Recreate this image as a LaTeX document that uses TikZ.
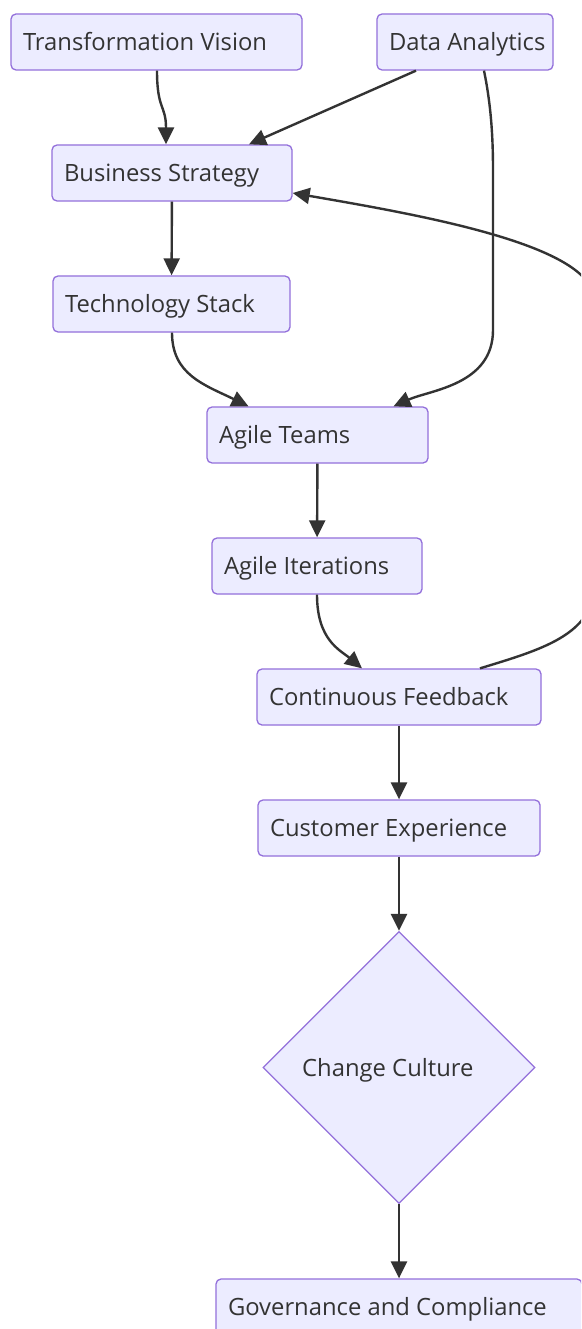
\documentclass[tikz,border=0pt]{standalone}
\usepackage{fontspec}
\setmainfont{Open Sans}
\usetikzlibrary{arrows.meta,shapes.geometric}
\definecolor{nodefill}{HTML}{ECECFF}
\definecolor{nodeline}{HTML}{9370DB}
\definecolor{edgecol}{HTML}{333333}
\newcommand{\boxtext}[2]{\makebox[#1][l]{#2}}
\tikzset{
  box/.style={draw=nodeline, fill=nodefill, line width=1.3pt, rounded corners=5pt,
    minimum height=56pt, inner xsep=12pt, inner ysep=0pt,
    text height=17pt, text depth=0pt,
    text=edgecol, font=\fontsize{23.8}{28}\selectfont},
  lbl/.style={text=edgecol, font=\fontsize{23.8}{28}\selectfont, inner sep=0pt,
    text height=17pt, text depth=0pt},
  arr/.style={draw=edgecol, line width=2.4pt, -{Triangle[length=17pt,width=16pt]}}
}
\begin{document}
\begin{tikzpicture}[x=1pt,y=-1pt]
\useasboundingbox (0,0) rectangle (581,1329);
\clip (0,0) rectangle (581,1329);
\fill[white] (0,0) rectangle (581,1329);
% nodes
\node[box] (tv) at (156.5,42) {\boxtext{267pt}{Transformation Vision}};
\node[box] (da) at (465,42) {\boxtext{152pt}{Data Analytics}};
\node[box] (bs) at (172,173) {\boxtext{216pt}{Business Strategy}};
\node[box] (ts) at (171.5,304) {\boxtext{213pt}{Technology Stack}};
\node[box] (at) at (317.5,435) {\boxtext{197pt}{Agile Teams}};
\node[box] (ai) at (317,566) {\boxtext{186pt}{Agile Iterations}};
\node[box] (cf) at (399,697) {\boxtext{260pt}{Continuous Feedback}};
\node[box] (ce) at (399,828) {\boxtext{258pt}{Customer Experience}};
\node[diamond, draw=nodeline, fill=nodefill, line width=1.3pt, aspect=1,
  minimum width=272pt, minimum height=272pt, inner sep=0pt] (cc) at (399,1067.5) {};
\node[lbl, anchor=west] (cclbl) at (302,1068) {Change Culture};
\node[box] (gc) at (399,1307) {\boxtext{342pt}{Governance and Compliance}};
% waypoints
\coordinate (tvs) at ([xshift=0.5]tv.south);
\coordinate (bsn) at ([xshift=-6]bs.north);
\coordinate (das1) at ([xshift=-49]da.south);
\coordinate (bsn2) at ([xshift=77]bs.north);
\coordinate (das2) at ([xshift=19]da.south);
\coordinate (w1) at (493,170);
\coordinate (w2) at (493,330);
\coordinate (atn1) at ([xshift=76]at.north);
\coordinate (tss) at ([xshift=0.5]ts.south);
\coordinate (atn2) at ([xshift=-69]at.north);
\coordinate (cfn) at ([xshift=-37]cf.north);
\coordinate (cfn2) at ([xshift=81]cf.north);
\coordinate (w3) at (594,585);
\coordinate (w4) at (594,300);
\coordinate (bse) at ([yshift=-20]bs.east);
% edges
\draw[arr] (tvs) .. controls (157,110) and (166,105) .. (bsn);
\draw[arr] (das1) -- (bsn2);
\draw[arr] (das2) .. controls (490,100) and (493,130) .. (w1) -- (w2)
  .. controls (493,385) and (430,390) .. (atn1);
\draw[arr] (bs) -- (ts);
\draw[arr] (tss) .. controls (172,375) and (205,385) .. (atn2);
\draw[arr] (at) -- (ai);
\draw[arr] (ai.south) .. controls (317,640) and (340,650) .. (cfn);
\draw[arr] (cfn2) .. controls (540,650) and (594,635) .. (w3) -- (w4)
  .. controls (594,245) and (420,215) .. (bse);
\draw[arr] (cf) -- (ce);
\draw[arr] (ce) -- (cc);
\draw[arr] (cc) -- (gc);
\end{tikzpicture}
\end{document}
